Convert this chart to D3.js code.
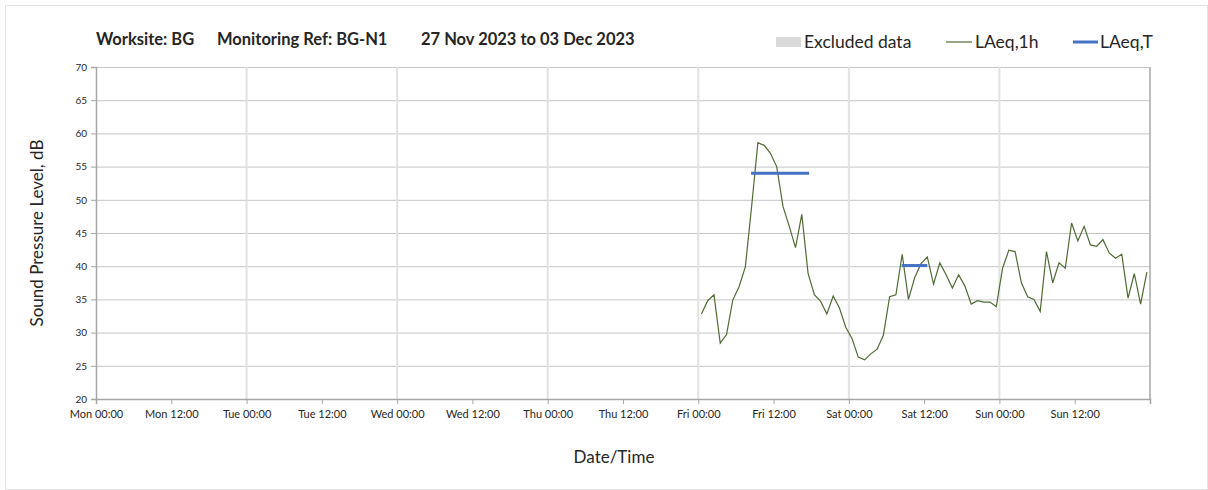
<!DOCTYPE html>
<html>
<head>
<meta charset="utf-8">
<script src="https://cdn.jsdelivr.net/npm/d3@7"></script>
<style>
  body { margin: 0; background: #fff; }
  text { font-family: Lato, "Open Sans", sans-serif; fill: #262626; }
</style>
</head>
<body>
<svg id="chart" width="1208" height="490"></svg>
<script>
// hourly LAeq,1h readings from Fri 01 Dec 2023 00:30 onwards
var firstReading = new Date(2023, 11, 1, 0, 30);
var laeq1h = [
  32.8, 34.8, 35.7, 28.4, 29.7, 34.9, 36.9, 39.9, 49.0, 58.6, 58.2, 57.0,
  55.0, 49.0, 46.0, 42.8, 47.8, 38.9, 35.7, 34.7, 32.8, 35.5, 33.7, 30.8,
  29.1, 26.3, 25.9, 26.8, 27.5, 29.6, 35.4, 35.7, 41.8, 35.0, 38.3, 40.4,
  41.4, 37.3, 40.5, 38.7, 36.7, 38.7, 37.0, 34.3, 34.8, 34.6, 34.6, 33.9,
  39.7, 42.4, 42.2, 37.5, 35.4, 35.0, 33.2, 42.2, 37.5, 40.5, 39.7, 46.5,
  43.8, 46.0, 43.2, 43.0, 44.0, 42.0, 41.2, 41.8, 35.2, 38.9, 34.3, 39.1
];

// LAeq,T periods
var periodStart = [new Date(2023, 11, 1, 8, 25), new Date(2023, 11, 2, 8, 25)];
var periodEnd   = [new Date(2023, 11, 1, 17, 40), new Date(2023, 11, 2, 12, 30)];
var periodValue = [54.0, 40.1];

var yTicks = [20, 25, 30, 35, 40, 45, 50, 55, 60, 65, 70];
var legendLabels = ["Excluded data", "LAeq,1h", "LAeq,T"];
var titleParts = ["Worksite: BG", "Monitoring Ref: BG-N1", "27 Nov 2023 to 03 Dec 2023"];

var svg = d3.select("#chart");
var margin = {left: 96, top: 67, right: 58, bottom: 91};
var width = 1208 - margin.left - margin.right,
    height = 490 - margin.top - margin.bottom;

// outer frame
svg.append("rect")
    .attr("x", 5.5).attr("y", 5.5)
    .attr("width", 1202).attr("height", 484)
    .attr("fill", "none").attr("stroke", "#e3e3e3");

var g = svg.append("g").attr("transform", "translate(" + margin.left + "," + margin.top + ")");

var x = d3.scaleTime()
    .domain([new Date(2023, 10, 27), new Date(2023, 11, 4)])
    .range([0, width]);
var y = d3.scaleLinear().domain([20, 70]).range([height, 0]);

var points = laeq1h.map(function(v, i) {
  return {t: d3.timeHour.offset(firstReading, i), v: v};
});

// horizontal grid
g.append("g").selectAll("line")
  .data(yTicks)
  .enter().append("line")
    .attr("x1", 0).attr("x2", width)
    .attr("y1", function(d) { return y(d) + 0.5; })
    .attr("y2", function(d) { return y(d) + 0.5; })
    .attr("stroke", "#c6c6c6");

// vertical grid at each midnight
g.append("g").selectAll("line")
  .data(d3.timeDay.range(d3.timeDay.offset(x.domain()[0], 1), d3.timeDay.offset(x.domain()[1], 1)))
  .enter().append("line")
    .attr("x1", function(d) { return x(d); })
    .attr("x2", function(d) { return x(d); })
    .attr("y1", 0).attr("y2", height)
    .attr("stroke", function(d, i) { return i == 6 ? "#bdbdbd" : "#e2e2e2"; })
    .attr("stroke-width", 2);

// axes
var fmt = d3.timeFormat("%a %H:%M");
var end = x.domain()[1];
var xAxis = g.append("g")
    .attr("transform", "translate(0," + height + ")")
    .call(d3.axisBottom(x)
      .ticks(d3.timeHour.every(12))
      .tickFormat(function(d) { return +d == +end ? "" : fmt(d); })
      .tickSize(5)
      .tickPadding(6));
xAxis.selectAll("text").attr("font-size", 11).attr("fill", "#333");
xAxis.selectAll("line").attr("stroke", "#a6a6a6");
xAxis.select(".domain").attr("stroke", "#a6a6a6").attr("stroke-width", 1.5);

var yAxis = g.append("g")
    .call(d3.axisLeft(y).tickValues(yTicks).tickSize(5).tickPadding(4));
yAxis.selectAll("text").attr("font-size", 10).attr("fill", "#333");
yAxis.selectAll("line").attr("stroke", "#a6a6a6");
yAxis.select(".domain").attr("stroke", "#a6a6a6").attr("stroke-width", 1.5);

// LAeq,1h line
var line = d3.line()
    .x(function(d) { return x(d.t); })
    .y(function(d) { return y(d.v); });

g.append("path")
    .datum(points)
    .attr("d", line)
    .attr("fill", "none")
    .attr("stroke", "#4f6b34")
    .attr("stroke-width", 1.2);

// LAeq,T segments
g.append("g").selectAll("line")
  .data(periodValue)
  .enter().append("line")
    .attr("x1", function(d, i) { return x(periodStart[i]); })
    .attr("x2", function(d, i) { return x(periodEnd[i]); })
    .attr("y1", function(d) { return y(d); })
    .attr("y2", function(d) { return y(d); })
    .attr("stroke", "#4472c4")
    .attr("stroke-width", 3);

// title
svg.selectAll("text.title")
  .data(titleParts)
  .enter().append("text")
    .attr("class", "title")
    .attr("x", function(d, i) { return [96, 217, 421][i]; })
    .attr("y", 45)
    .attr("font-size", 16.5)
    .attr("font-weight", "bold")
    .attr("fill", "#000")
    .text(function(d) { return d; });

// legend
var legend = svg.append("g").attr("transform", "translate(776,42)");
legend.append("rect").attr("x", 0).attr("y", -5).attr("width", 25).attr("height", 10).attr("fill", "#d9d9d9");
legend.append("line").attr("x1", 170).attr("x2", 196).attr("y1", 0).attr("y2", 0)
    .attr("stroke", "#4f6b34").attr("stroke-width", 1.2);
legend.append("line").attr("x1", 297).attr("x2", 322).attr("y1", 0).attr("y2", 0)
    .attr("stroke", "#4472c4").attr("stroke-width", 3);
legend.selectAll("text.lg")
  .data(legendLabels)
  .enter().append("text")
    .attr("class", "lg")
    .attr("x", function(d, i) { return [28, 199, 324][i]; })
    .attr("y", 6)
    .attr("font-size", 17.5)
    .attr("fill", "#333")
    .text(function(d) { return d; });

// axis titles
svg.append("text")
    .attr("transform", "translate(43," + (margin.top + height / 2) + ") rotate(-90)")
    .attr("text-anchor", "middle")
    .attr("font-size", 17)
    .attr("fill", "#333")
    .text("Sound Pressure Level, dB");

svg.append("text")
    .attr("x", 614).attr("y", 463)
    .attr("text-anchor", "middle")
    .attr("font-size", 17)
    .attr("fill", "#333")
    .text("Date/Time");
</script>
</body>
</html>
